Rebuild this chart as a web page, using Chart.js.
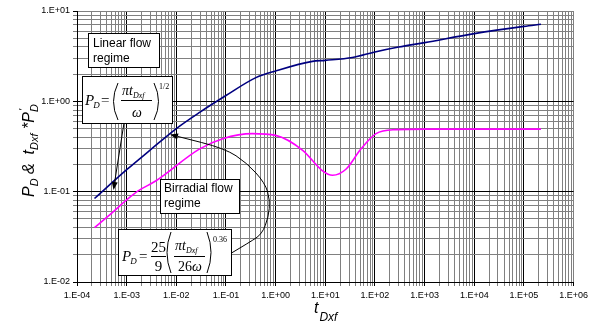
<!DOCTYPE html>
<html>
<head>
<meta charset="utf-8">
<script src="https://cdn.jsdelivr.net/npm/chart.js@4.4.1/dist/chart.umd.min.js"></script>
<style>
html, body { margin: 0; padding: 0; background: #fff; }
</style>
</head>
<body>
<canvas id="myChart" width="592" height="327"></canvas>
<script>
// values (log-log, t_Dxf vs P_D)
const pdTimes = [2.25e-4, 1e-3, 3e-3, 1e-2, 3e-2, 0.1, 0.4, 1, 5.5, 10, 35, 100, 300, 1000, 1e4, 1e5, 2.2e5];
const pdValues = [0.084, 0.175, 0.29, 0.50, 0.76, 1.16, 1.83, 2.17, 2.77, 2.84, 3.05, 3.52, 3.99, 4.47, 5.62, 6.76, 7.13];

const derivTimes = [2.25e-4, 5.2e-4, 1.05e-3, 1.7e-3, 3.9e-3, 2.9e-2, 8.6e-2, 0.34, 1, 3.5, 8.8, 14, 26, 52, 105, 260, 1000, 2.2e5];
const derivValues = [0.040, 0.059, 0.083, 0.102, 0.132, 0.296, 0.386, 0.439, 0.42, 0.287, 0.17, 0.152, 0.177, 0.296, 0.439, 0.486, 0.493, 0.493];

const xDecades = [-4, 6];
const yDecades = [-2, 1];

const SANS = 'Arial, "Liberation Sans", sans-serif';
const SERIF = '"Times New Roman", "Liberation Serif", serif';

function toPoints(xs, ys) {
    return xs.map((x, i) => ({ x: x, y: ys[i] }));
}

function logTicks(lo, hi) {
    const t = [];
    for (let e = lo; e < hi; e++) {
        for (let d = 1; d < 10; d++) t.push({ value: d * Math.pow(10, e) });
    }
    t.push({ value: Math.pow(10, hi) });
    return t;
}

function isDecade(v) {
    const l = Math.log10(v);
    return Math.abs(l - Math.round(l)) < 1e-6;
}

function sciLabel(v) {
    if (!isDecade(v)) return '';
    const e = Math.round(Math.log10(v));
    const a = Math.abs(e);
    return '1.E' + (e < 0 ? '-' : '+') + (a < 10 ? '0' + a : a);
}

function gridColor(hi) {
    return (c) => {
        const v = c.tick ? c.tick.value : 1;
        if (Math.abs(Math.log10(v) - hi) < 1e-6) return '#808080';
        return isDecade(v) ? '#000' : '#808080';
    };
}

// text helper, returns advance width
function put(c, s, x, y, size, italic, family) {
    c.font = (italic ? 'italic ' : '') + size + 'px ' + (family || SERIF);
    c.fillText(s, x, y);
    return c.measureText(s).width;
}

function box(c, x, y, w, h) {
    c.fillStyle = '#fff';
    c.fillRect(x, y, w, h);
    c.strokeStyle = '#000';
    c.lineWidth = 1;
    c.strokeRect(x + 0.5, y + 0.5, w, h);
}

function arrowHead(c, fx, fy, tx, ty) {
    const a = Math.atan2(ty - fy, tx - fx);
    const len = 8, half = 3;
    c.beginPath();
    c.moveTo(tx, ty);
    c.lineTo(tx - len * Math.cos(a) + half * Math.sin(a), ty - len * Math.sin(a) - half * Math.cos(a));
    c.lineTo(tx - len * Math.cos(a) - half * Math.sin(a), ty - len * Math.sin(a) + half * Math.cos(a));
    c.closePath();
    c.fill();
}

function paren(c, x, top, bottom, bulge) {
    c.beginPath();
    c.moveTo(x, top);
    c.quadraticCurveTo(x + bulge, (top + bottom) / 2, x, bottom);
    c.stroke();
}

const notes = {
    id: 'notes',
    afterDraw(chart) {
        const c = chart.ctx;
        c.save();
        c.fillStyle = '#000';
        c.strokeStyle = '#000';
        c.lineWidth = 1;
        c.textBaseline = 'alphabetic';
        c.textAlign = 'left';

        // arrow from linear formula to the P_D line
        c.beginPath();
        c.moveTo(124, 123);
        c.lineTo(114.5, 183);
        c.stroke();
        arrowHead(c, 124, 123, 113.5, 190);

        // curved arrow from birradial formula
        const pts = [[231.5, 253], [250, 242], [262, 234], [268.5, 217], [270, 200], [265, 183], [247, 163], [225, 148.5], [178, 136.5]];
        c.beginPath();
        c.moveTo(pts[0][0], pts[0][1]);
        for (let i = 1; i < pts.length - 1; i++) {
            const mx = (pts[i][0] + pts[i + 1][0]) / 2, my = (pts[i][1] + pts[i + 1][1]) / 2;
            c.quadraticCurveTo(pts[i][0], pts[i][1], mx, my);
        }
        c.lineTo(pts[pts.length - 1][0], pts[pts.length - 1][1]);
        c.stroke();
        arrowHead(c, 225, 148.5, 170, 134.5);

        // Linear flow regime
        box(c, 88, 33, 71, 34);
        c.fillStyle = '#000';
        put(c, 'Linear flow', 93, 47, 12, false, SANS);
        put(c, 'regime', 93, 61.5, 12, false, SANS);

        // P_D = (pi t_Dxf / omega)^(1/2)
        box(c, 82, 76, 90, 47);
        c.fillStyle = '#000';
        let x = 85;
        x += put(c, 'P', x, 105, 15, true);
        put(c, 'D', x - 1, 108, 9, true);
        put(c, '=', 101, 105, 15, false);
        paren(c, 118, 83, 120, -9);
        x = 122;
        x += put(c, 'πt', x, 95, 14, true);
        put(c, 'Dxf', x, 98, 8, true);
        c.beginPath();
        c.moveTo(121, 100.5);
        c.lineTo(152, 100.5);
        c.stroke();
        put(c, 'ω', 132, 117, 14, true);
        paren(c, 154, 83, 120, 9);
        put(c, '1/2', 159, 89, 8, false);

        // Birradial flow regime
        box(c, 160, 179, 79, 34);
        c.fillStyle = '#000';
        put(c, 'Birradial flow', 164, 192, 12, false, SANS);
        put(c, 'regime', 164, 207, 12, false, SANS);

        // P_D = 25/9 (pi t_Dxf / 26 omega)^0.36
        box(c, 118, 229, 113, 46);
        c.fillStyle = '#000';
        x = 122;
        x += put(c, 'P', x, 261, 15, true);
        put(c, 'D', x - 1, 264, 9, true);
        put(c, '=', 139, 261, 15, false);
        c.textAlign = 'center';
        put(c, '25', 158.5, 252, 15, false);
        put(c, '9', 158.5, 271, 15, false);
        c.textAlign = 'left';
        c.beginPath();
        c.moveTo(151, 256.5);
        c.lineTo(166, 256.5);
        c.stroke();
        paren(c, 171, 232, 273, -8);
        x = 175;
        x += put(c, 'πt', x, 250, 14, true);
        put(c, 'Dxf', x, 253, 8, true);
        c.beginPath();
        c.moveTo(174, 256.5);
        c.lineTo(205, 256.5);
        c.stroke();
        x = 178;
        x += put(c, '26', x, 271, 14, false);
        put(c, 'ω', x, 271, 14, true);
        paren(c, 207, 232, 273, 8);
        put(c, '0.36', 213, 242, 8, false);

        // x axis title
        x = 314;
        x += put(c, 't', x, 313, 16, true, SANS);
        put(c, 'Dxf', x + 1, 321, 12, true, SANS);

        // y axis title, rotated
        c.translate(34, 197);
        c.rotate(-Math.PI / 2);
        x = 0;
        x += put(c, 'P', x, 0, 16, true, SANS);
        x += put(c, 'D', x, 4, 11, true, SANS);
        x += put(c, ' &  ', x, 0, 16, true, SANS);
        x += put(c, 't', x, 0, 16, true, SANS);
        x += put(c, 'Dxf', x, 4, 11, true, SANS);
        x += put(c, ' *', x, 0, 16, true, SANS);
        x += put(c, 'P', x, 0, 16, true, SANS);
        put(c, "'", x + 1, -7, 11, true, SANS);
        put(c, 'D', x, 4, 11, true, SANS);

        c.restore();
    }
};

const ctx = document.getElementById('myChart').getContext('2d');
const chart = new Chart(ctx, {
    type: 'line',
    data: {
        datasets: [{
            label: 'P_D',
            data: toPoints(pdTimes, pdValues),
            borderColor: '#000080',
            borderWidth: 1.6,
            pointRadius: 0,
            cubicInterpolationMode: 'monotone',
            fill: false
        }, {
            label: 't_Dxf*P\'_D',
            data: toPoints(derivTimes, derivValues),
            borderColor: '#FF00FF',
            borderWidth: 1.6,
            pointRadius: 0,
            cubicInterpolationMode: 'monotone',
            fill: false
        }]
    },
    options: {
        responsive: false,
        animation: false,
        layout: { padding: { left: 0, top: 11, right: 18, bottom: 0 } },
        plugins: {
            legend: { display: false },
            tooltip: { enabled: false }
        },
        scales: {
            x: {
                type: 'logarithmic',
                min: Math.pow(10, xDecades[0]),
                max: Math.pow(10, xDecades[1]),
                afterBuildTicks: (s) => { s.ticks = logTicks(xDecades[0], xDecades[1]); },
                afterFit: (s) => { s.height = 45; },
                border: { color: '#000', width: 1 },
                grid: {
                    color: gridColor(xDecades[1]),
                    tickColor: (c) => (c.tick && isDecade(c.tick.value)) ? '#000' : '#808080',
                    tickLength: 4,
                    lineWidth: 1
                },
                ticks: {
                    autoSkip: false,
                    maxRotation: 0,
                    minRotation: 0,
                    padding: 4,
                    color: '#000',
                    font: { family: SANS, size: 9 },
                    callback: (v) => sciLabel(v)
                }
            },
            y: {
                type: 'logarithmic',
                min: Math.pow(10, yDecades[0]),
                max: Math.pow(10, yDecades[1]),
                afterBuildTicks: (s) => { s.ticks = logTicks(yDecades[0], yDecades[1]); },
                afterFit: (s) => { s.width = 77; },
                border: { color: '#000', width: 1 },
                grid: {
                    color: gridColor(yDecades[1]),
                    tickColor: (c) => (c.tick && isDecade(c.tick.value)) ? '#000' : '#808080',
                    tickLength: 4,
                    lineWidth: 1
                },
                ticks: {
                    autoSkip: false,
                    padding: 3,
                    color: '#000',
                    font: { family: SANS, size: 9 },
                    callback: (v) => sciLabel(v)
                }
            }
        }
    },
    plugins: [notes]
});
</script>
</body>
</html>
